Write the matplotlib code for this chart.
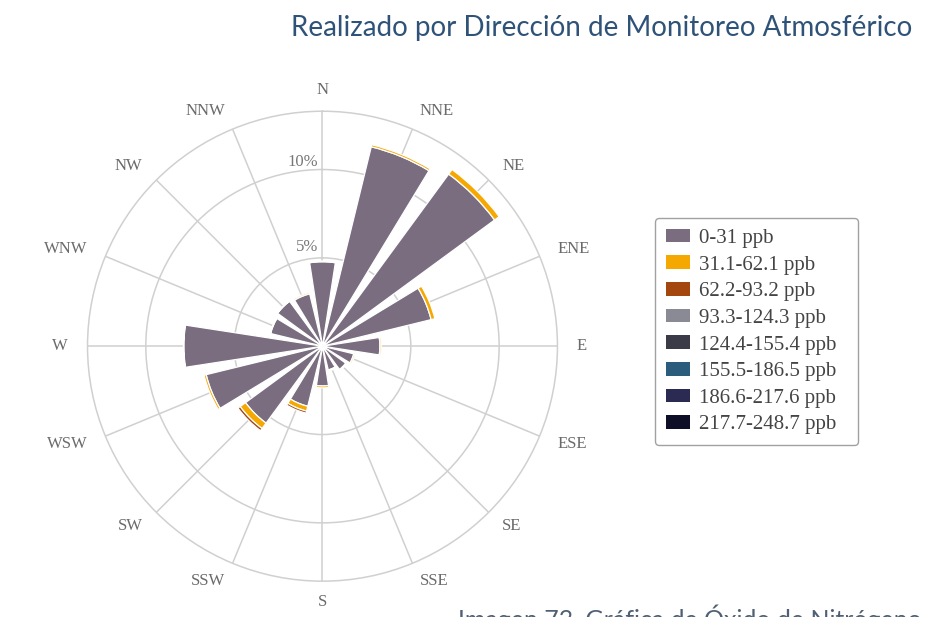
import numpy as np
import matplotlib.pyplot as plt
from matplotlib.patches import Patch

directions = ['N', 'NNE', 'NE', 'ENE', 'E', 'ESE', 'SE', 'SSE',
              'S', 'SSW', 'SW', 'WSW', 'W', 'WNW', 'NW', 'NNW']

# frecuencia (%) por dirección para cada rango de concentración
bin_labels = ['0-31 ppb', '31.1-62.1 ppb', '62.2-93.2 ppb', '93.3-124.3 ppb',
              '124.4-155.4 ppb', '155.5-186.5 ppb', '186.6-217.6 ppb', '217.7-248.7 ppb']
bin_colors = ['#7a6d80', '#f5a800', '#a3470f', '#8a8a94',
              '#3b3b47', '#2b5c7c', '#2a2a52', '#0e0f26']

freq_0_31 = [4.78, 11.62, 12.08, 6.33, 3.25, 1.82, 1.63, 1.38,
             2.25, 3.50, 5.40, 6.78, 7.85, 3.02, 3.15, 3.05]
freq_31_62 = [0.04, 0.12, 0.32, 0.22, 0.08, 0.08, 0.07, 0.07,
              0.11, 0.28, 0.38, 0.12, 0.02, 0.02, 0.02, 0.08]
freq_62_93 = [0, 0, 0, 0, 0, 0, 0, 0,
              0, 0.12, 0.15, 0, 0, 0, 0, 0]
freq_rest = [0] * 16

freqs = [freq_0_31, freq_31_62, freq_62_93,
         freq_rest, freq_rest, freq_rest, freq_rest, freq_rest]

theta = np.radians(np.arange(16) * 22.5)

fig = plt.figure(figsize=(9.38, 6.17), dpi=100)
ax = fig.add_axes([0.0933, 0.058, 0.501, 0.7618], projection='polar')
ax.set_theta_zero_location('N')
ax.set_theta_direction(-1)
ax.set_ylim(0, 13.3)
ax.set_yticks([5, 10])
ax.set_yticklabels([])
ax.set_xticks(theta)
ax.set_xticklabels([])
ax.tick_params(length=0)
ax.grid(color='#d0d0d0', linewidth=1.1)
ax.spines['polar'].set_color('#d0d0d0')
ax.spines['polar'].set_linewidth(1.1)
ax.set_axisbelow(True)

bottom = np.zeros(16)
for vals, col in zip(freqs, bin_colors):
    vals = np.array(vals, dtype=float)
    m = vals > 0
    if m.any():
        ax.bar(theta[m], vals[m], width=np.radians(17.5), bottom=bottom[m],
               color=col, edgecolor='white', linewidth=0.9, zorder=3)
    bottom += vals

serif = 'Liberation Serif'
for th, lab in zip(theta, directions):
    s, c = np.sin(th), np.cos(th)
    if abs(s) < 0.01:
        ha, va, r = 'center', ('bottom' if c > 0 else 'top'), 14.05
    else:
        ha, va, r = ('left' if s > 0 else 'right'), 'center', 14.4
    ax.text(th, r, lab, ha=ha, va=va, fontsize=12,
            family=serif, color='#6a6a6a', clip_on=False)

ax.text(np.radians(-2.6), 5.6, '5%', ha='right', va='center', fontsize=12,
        family=serif, color='#777777', zorder=4)
ax.text(np.radians(-1.4), 10.45, '10%', ha='right', va='center', fontsize=12,
        family=serif, color='#777777', zorder=4)

handles = [Patch(facecolor=c, edgecolor='none') for c in bin_colors]
leg = fig.legend(handles, bin_labels, loc='upper left', mode='expand',
                 bbox_to_anchor=(655 / 938, 1 - 445 / 617, 203 / 938, 227 / 617),
                 frameon=True, fancybox=True,
                 prop={'family': serif, 'size': 15}, labelcolor='#444444',
                 handlelength=1.15, handleheight=0.63, handletextpad=0.43,
                 labelspacing=0.36, borderpad=0.52, borderaxespad=0)
leg.get_frame().set_edgecolor('#8a8a8a')
leg.get_frame().set_linewidth(1.0)

fig.text(0.9723, 0.9417, 'Realizado por Dirección de Monitoreo Atmosférico',
         ha='right', va='baseline', fontsize=20, family='Lato',
         color='#2f5378')
fig.text(0.488, -0.0178, 'Imagen 73. Gráfica de Óxido de Nitrógeno',
         ha='left', va='baseline', fontsize=18, family='Lato',
         color='#4f6075')

fig.savefig('out.png', dpi=100)
